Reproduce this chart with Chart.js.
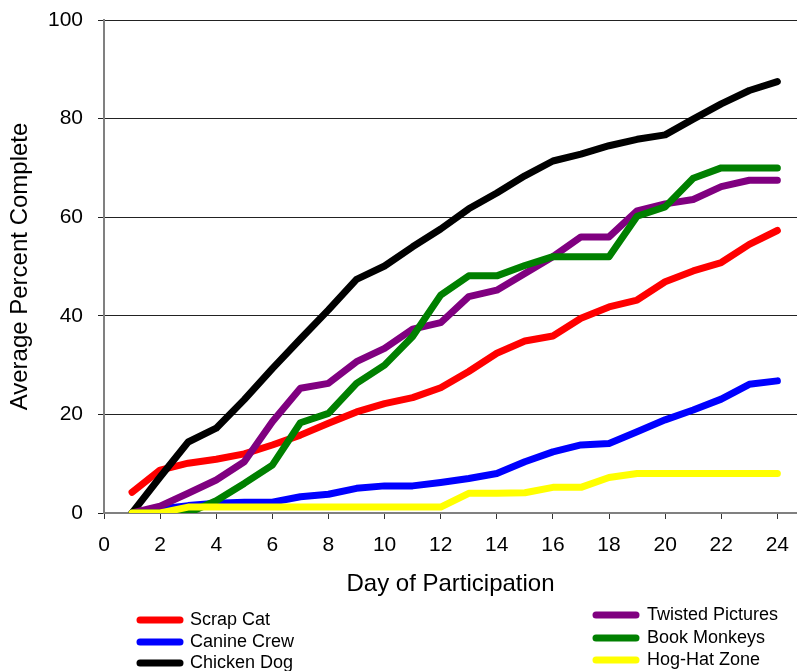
<!DOCTYPE html>
<html>
<head>
<meta charset="utf-8">
<script src="https://cdn.jsdelivr.net/npm/chart.js@4.4.1/dist/chart.umd.min.js"></script>
<style>
  html, body { margin: 0; padding: 0; background: #fff; }
  #wrap { position: relative; width: 797px; height: 671px; }
</style>
</head>
<body>
<div id="wrap"><canvas id="progress-chart" width="797" height="671"></canvas></div>
<script>
// days of participation (x values)
const days = [1, 2, 3, 4, 5, 6, 7, 8, 9, 10, 11, 12, 13, 14, 15, 16, 17, 18, 19, 20, 21, 22, 23, 24];

// average percent complete per team
const scrapCat = [4.2, 8.7, 10.1, 10.9, 12.0, 13.8, 15.8, 18.2, 20.5, 22.2, 23.4, 25.4, 28.7, 32.4, 34.9, 35.9, 39.5, 41.8, 43.2, 46.9, 49.1, 50.8, 54.5, 57.3];
const canineCrew = [0, 0.8, 1.5, 2.0, 2.2, 2.2, 3.3, 3.8, 5.0, 5.5, 5.5, 6.2, 7.0, 8.0, 10.4, 12.4, 13.8, 14.1, 16.5, 18.9, 20.9, 23.1, 26.1, 26.8];
const chickenDog = [0, 7.3, 14.4, 17.2, 23.0, 29.3, 35.3, 41.2, 47.4, 50.1, 54.0, 57.6, 61.7, 64.9, 68.4, 71.4, 72.8, 74.5, 75.8, 76.7, 79.9, 83.0, 85.7, 87.5];
const twistedPictures = [0, 1.4, 4.0, 6.7, 10.4, 18.5, 25.3, 26.3, 30.7, 33.4, 37.3, 38.6, 43.9, 45.2, 48.6, 52.0, 56.0, 56.0, 61.3, 62.7, 63.6, 66.2, 67.5, 67.5];
const bookMonkeys = [0, 0, 0, 2.5, 6.0, 9.7, 18.3, 20.2, 26.3, 30.0, 35.8, 44.2, 48.1, 48.1, 50.2, 52.0, 52.0, 52.0, 60.2, 62.1, 67.9, 70.0, 70.0, 70.0];
const hogHatZone = [0, 0, 1.2, 1.2, 1.2, 1.2, 1.2, 1.2, 1.2, 1.2, 1.2, 1.2, 4.0, 4.0, 4.1, 5.2, 5.2, 7.2, 8.0, 8.0, 8.0, 8.0, 8.0, 8.0];

const teamNames = ['Scrap Cat', 'Canine Crew', 'Chicken Dog', 'Twisted Pictures', 'Book Monkeys', 'Hog-Hat Zone'];
const teamColors = ['#ff0000', '#0000ff', '#000000', '#800080', '#008000', '#ffff00'];
const teamValues = [scrapCat, canineCrew, chickenDog, twistedPictures, bookMonkeys, hogHatZone];

const xTicks = { min: 0, max: 24.7, step: 2 };
const yTicks = { min: 0, max: 100, step: 20 };

const font = "'Liberation Sans', Arial, sans-serif";

// two column legend under the axis title, like the original
const legendSpots = [
    { sx: 137, tx: 190, y: 620 },
    { sx: 137, tx: 190, y: 642 },
    { sx: 137, tx: 190, y: 663 },
    { sx: 593, tx: 647, y: 615 },
    { sx: 593, tx: 647, y: 638 },
    { sx: 593, tx: 647, y: 660 }
];

const twoColumnLegend = {
    id: 'twoColumnLegend',
    afterDraw(chart) {
        const ctx = chart.ctx;
        ctx.save();
        chart.data.datasets.forEach((ds, i) => {
            const spot = legendSpots[i];
            ctx.strokeStyle = ds.borderColor;
            ctx.lineWidth = 7;
            ctx.lineCap = 'round';
            ctx.beginPath();
            ctx.moveTo(spot.sx + 3, spot.y);
            ctx.lineTo(spot.sx + 43, spot.y);
            ctx.stroke();
            ctx.fillStyle = '#000';
            ctx.font = '18px ' + font;
            ctx.textBaseline = 'middle';
            ctx.fillText(ds.label, spot.tx, spot.y);
        });
        ctx.restore();
    }
};

// no extra room for overflowing tick labels, plot area is fixed like the original
function noPad(scale) {
    scale.paddingTop = 0;
    scale.paddingBottom = 0;
    scale.paddingLeft = 0;
    scale.paddingRight = 0;
}

new Chart(document.querySelector('#progress-chart').getContext('2d'), {
    type: 'line',
    data: {
        datasets: teamNames.map((name, i) => ({
            label: name,
            data: days.map((d, j) => ({ x: d, y: teamValues[i][j] })),
            borderColor: teamColors[i],
            backgroundColor: teamColors[i],
            borderWidth: 7,
            borderCapStyle: 'round',
            borderJoinStyle: 'round',
            pointRadius: 0,
            tension: 0,
            order: teamNames.length - i
        }))
    },
    options: {
        responsive: false,
        animation: false,
        layout: { padding: { top: 20, right: 0, left: 0, bottom: 0 } },
        plugins: {
            legend: { display: false },
            tooltip: { enabled: false }
        },
        scales: {
            x: {
                type: 'linear',
                min: xTicks.min,
                max: xTicks.max,
                afterFit: scale => { scale.height = 158; noPad(scale); },
                ticks: {
                    stepSize: xTicks.step,
                    includeBounds: false,
                    color: '#000',
                    padding: 14,
                    maxRotation: 0,
                    font: { family: font, size: 21 }
                },
                grid: { drawOnChartArea: false, drawTicks: true, tickLength: 6, color: '#333' },
                border: { color: '#808080', width: 2 },
                title: {
                    display: true,
                    text: 'Day of Participation',
                    color: '#000',
                    font: { family: font, size: 24 },
                    padding: { top: 0, bottom: 72 }
                }
            },
            y: {
                min: yTicks.min,
                max: yTicks.max,
                afterFit: scale => { scale.width = 104; noPad(scale); },
                ticks: {
                    stepSize: yTicks.step,
                    color: '#000',
                    padding: 15,
                    font: { family: font, size: 21 }
                },
                grid: { color: '#222', tickLength: 6, lineWidth: 1 },
                border: { color: '#808080', width: 2 },
                title: {
                    display: true,
                    text: 'Average Percent Complete',
                    color: '#000',
                    font: { family: font, size: 24 },
                    padding: { top: 6, bottom: 0 }
                }
            }
        }
    },
    plugins: [twoColumnLegend]
});
</script>
</body>
</html>
